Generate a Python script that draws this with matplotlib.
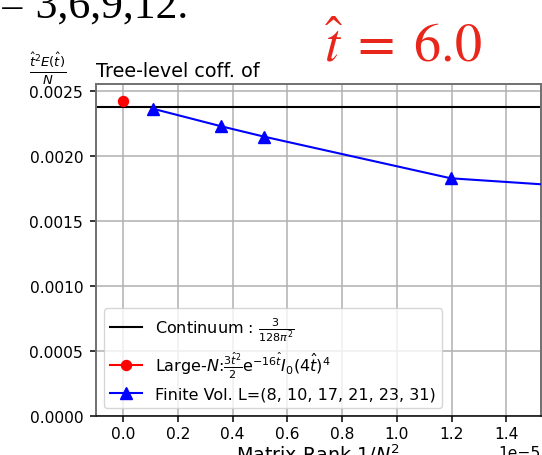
import matplotlib
matplotlib.use("Agg")
import matplotlib.pyplot as plt
from matplotlib.ticker import MultipleLocator

# ---- data ----
continuum_value = 0.002375
large_n_x = [0.0]
large_n_y = [0.002424]
fv_x = [0.108e-5, 0.357e-5, 0.514e-5, 1.197e-5, 10.0e-5, 24.4e-5]
fv_y = [0.002365, 0.002230, 0.002150, 0.001829, 0.000600, 0.000150]

x_limits = [-0.101e-5, 1.526e-5]
y_limits = [0.0, 0.002553]

label_cont = r'Continuum : $\frac{3}{128\pi^2}$'
label_largen = r'Large-$N$:$\frac{3\hat{t}^2}{2}\mathrm{e}^{-16\hat{t}}I_0(4\hat{t})^4$'
label_fv = 'Finite Vol. L=(8, 10, 17, 21, 23, 31)'
title_text = 'Tree-level coff. of'
ylabel_text = r'$\frac{\hat{t}^2E(\hat{t})}{N}$'
xlabel_text = r'Matrix Rank $1/N^2$'
top_text = '= 3,6,9,12.'
red_text = r'$\hat{t}\;=\;6.0$'

DPI = 100
W, H = 542, 456
fig = plt.figure(figsize=(W / DPI, H / DPI), dpi=DPI)
fig.patch.set_facecolor('white')

ax = fig.add_axes([95.7 / W, 1 - 416.7 / H, (540.7 - 95.7) / W, (416.7 - 85.3) / H])

ax.axhline(continuum_value, color='black', lw=1.5, label=label_cont, zorder=2)
ax.plot(large_n_x, large_n_y, 'o', color='red', ms=7.2, label=label_largen,
        ls='-', lw=1.5, zorder=3)
ax.plot(fv_x, fv_y, '^', color='blue', ms=8.3, ls='-', lw=1.5,
        label=label_fv, zorder=3)

ax.set_xlim(*x_limits)
ax.set_ylim(*y_limits)
ax.xaxis.set_major_locator(MultipleLocator(0.2e-5))
ax.yaxis.set_major_locator(MultipleLocator(0.0005))
ax.grid(True, color='#b0b0b0', lw=1.1)
ax.set_axisbelow(True)
ax.tick_params(axis='x', labelsize=11.2, length=4, width=1.1, pad=3.5)
ax.tick_params(axis='y', labelsize=11.2, length=4, width=1.1, pad=5)
ax.xaxis.get_offset_text().set_fontsize(11.2)

for side in ['left', 'top', 'right']:
    ax.spines[side].set_color('#707070')
    ax.spines[side].set_linewidth(1.4)
ax.spines['bottom'].set_linewidth(1.1)

ax.set_title(title_text, loc='left', fontsize=13.8, pad=6)
ax.set_xlabel(xlabel_text, fontsize=13.8, labelpad=0)

leg = ax.legend(loc='lower left', fontsize=11.5, borderaxespad=0.5,
                labelspacing=0.42)

fig.text(48 / W, 1 - 69 / H, ylabel_text, fontsize=13.5, ha='center', va='center')

fig.text(0 / W, 1 - 17.3 / H, top_text, fontsize=31.5, family='Liberation Serif',
         ha='left', va='baseline', color='black')

fig.text(324 / W, 1 - 62 / H, red_text, fontsize=39, color='#e8261c',
         ha='left', va='baseline', math_fontfamily='stix')

fig.savefig('out.png', dpi=DPI, facecolor='white')
